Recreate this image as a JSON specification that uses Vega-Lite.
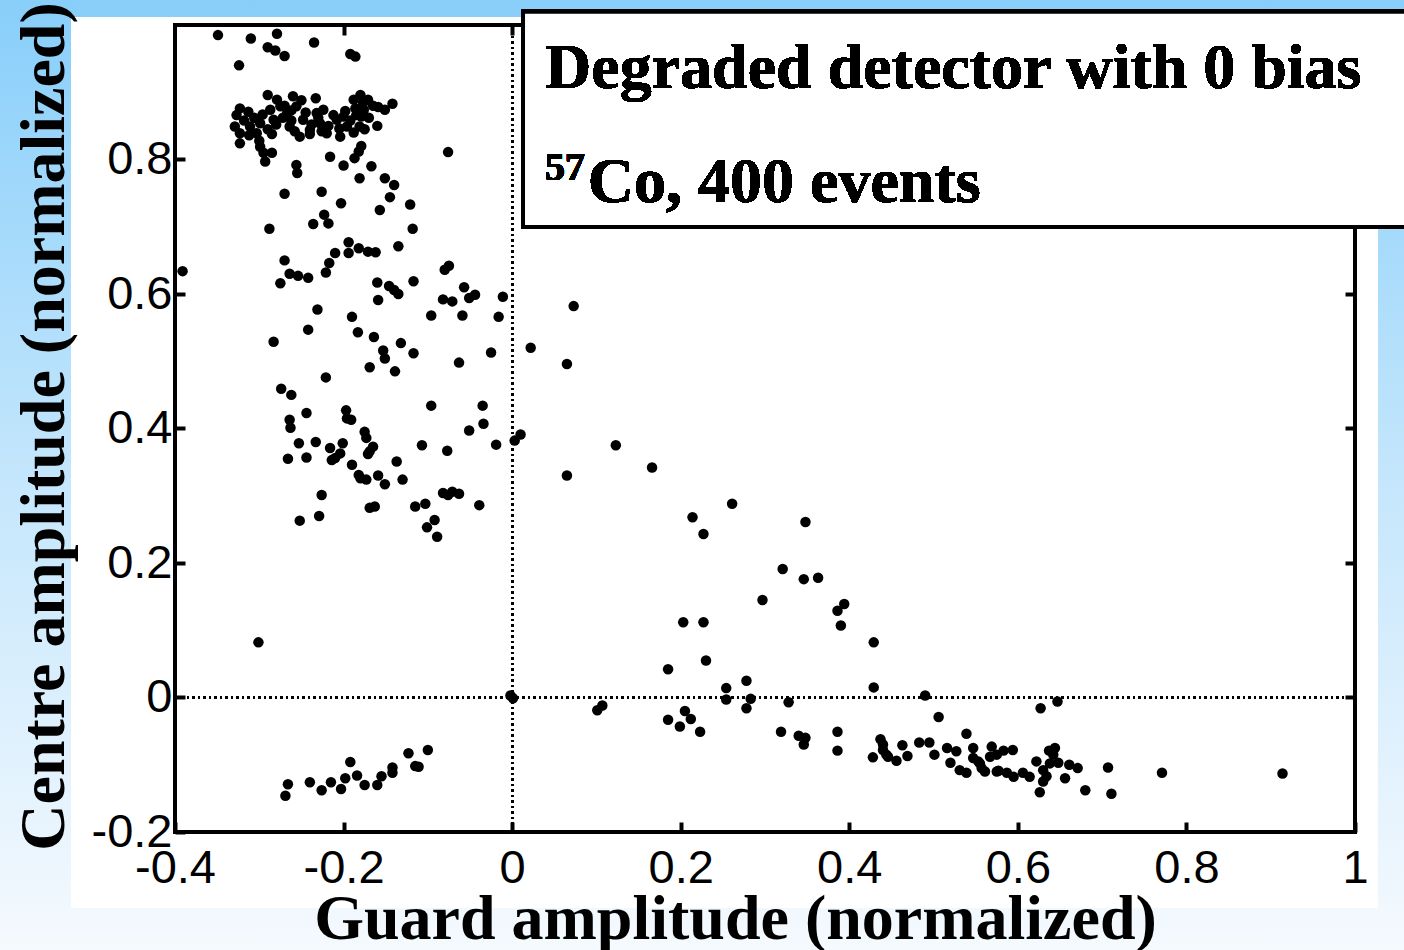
{
  "$schema": "https://vega.github.io/schema/vega-lite/v6.json",
  "width": 1180,
  "height": 807,
  "autosize": {"type": "none"},
  "padding": {"left": 175, "top": 25, "right": 49, "bottom": 118},
  "background": "#f6fafe",
  "view": {"stroke": null},
  "data": {"values": [
    {"g":-0.349,"c":0.985},{"g":-0.310,"c":0.980},{"g":-0.279,"c":0.987},{"g":-0.290,"c":0.967},{"g":-0.281,"c":0.962},{"g":-0.270,"c":0.954},{"g":-0.235,"c":0.974},{"g":-0.192,"c":0.957},{"g":-0.186,"c":0.953},{"g":-0.324,"c":0.940},
    {"g":-0.290,"c":0.896},{"g":-0.279,"c":0.889},{"g":-0.260,"c":0.894},{"g":-0.233,"c":0.891},{"g":-0.323,"c":0.876},{"g":-0.313,"c":0.871},{"g":-0.327,"c":0.866},{"g":-0.329,"c":0.849},{"g":-0.323,"c":0.839},{"g":-0.311,"c":0.849},
    {"g":-0.303,"c":0.839},{"g":-0.299,"c":0.854},{"g":-0.287,"c":0.874},{"g":-0.283,"c":0.859},{"g":-0.275,"c":0.879},{"g":-0.267,"c":0.869},{"g":-0.256,"c":0.879},{"g":-0.264,"c":0.849},{"g":-0.248,"c":0.859},{"g":-0.240,"c":0.844},
    {"g":-0.252,"c":0.834},{"g":-0.232,"c":0.869},{"g":-0.224,"c":0.874},{"g":-0.228,"c":0.854},{"g":-0.220,"c":0.839},{"g":-0.208,"c":0.859},{"g":-0.200,"c":0.864},{"g":-0.196,"c":0.849},{"g":-0.204,"c":0.834},{"g":-0.188,"c":0.889},
    {"g":-0.180,"c":0.896},{"g":-0.186,"c":0.876},{"g":-0.177,"c":0.884},{"g":-0.171,"c":0.889},{"g":-0.179,"c":0.864},{"g":-0.181,"c":0.849},{"g":-0.159,"c":0.878},{"g":-0.151,"c":0.874},{"g":-0.142,"c":0.883},{"g":-0.160,"c":0.850},
    {"g":-0.323,"c":0.824},{"g":-0.299,"c":0.819},{"g":-0.295,"c":0.810},{"g":-0.285,"c":0.810},{"g":-0.293,"c":0.797},{"g":-0.256,"c":0.792},{"g":-0.255,"c":0.780},{"g":-0.216,"c":0.804},{"g":-0.200,"c":0.791},{"g":-0.187,"c":0.802},
    {"g":-0.182,"c":0.812},{"g":-0.179,"c":0.820},{"g":-0.181,"c":0.772},{"g":-0.167,"c":0.790},{"g":-0.151,"c":0.772},{"g":-0.140,"c":0.762},{"g":-0.145,"c":0.744},{"g":-0.121,"c":0.733},{"g":-0.157,"c":0.725},{"g":-0.203,"c":0.735},
    {"g":-0.226,"c":0.752},{"g":-0.270,"c":0.749},{"g":-0.076,"c":0.811},{"g":-0.223,"c":0.718},
    {"g":-0.318,"c":0.858},{"g":-0.306,"c":0.862},{"g":-0.296,"c":0.867},{"g":-0.290,"c":0.845},{"g":-0.280,"c":0.852},{"g":-0.272,"c":0.862},{"g":-0.262,"c":0.858},{"g":-0.258,"c":0.842},{"g":-0.245,"c":0.870},{"g":-0.238,"c":0.852},
    {"g":-0.230,"c":0.862},{"g":-0.218,"c":0.850},{"g":-0.212,"c":0.866},{"g":-0.205,"c":0.846},{"g":-0.192,"c":0.858},{"g":-0.185,"c":0.866},{"g":-0.176,"c":0.874},{"g":-0.170,"c":0.862},{"g":-0.165,"c":0.880},{"g":-0.188,"c":0.840},
    {"g":-0.198,"c":0.872},{"g":-0.285,"c":0.838},{"g":-0.300,"c":0.828},{"g":-0.312,"c":0.836},{"g":-0.270,"c":0.880},{"g":-0.250,"c":0.888},{"g":-0.226,"c":0.842},{"g":-0.175,"c":0.845},{"g":-0.262,"c":0.873},{"g":-0.240,"c":0.838},
    {"g":-0.288,"c":0.697},{"g":-0.236,"c":0.704},{"g":-0.218,"c":0.705},{"g":-0.118,"c":0.697},{"g":-0.194,"c":0.677},{"g":-0.210,"c":0.661},{"g":-0.194,"c":0.661},{"g":-0.182,"c":0.668},{"g":-0.171,"c":0.663},{"g":-0.162,"c":0.662},
    {"g":-0.135,"c":0.671},{"g":-0.270,"c":0.650},{"g":-0.217,"c":0.646},{"g":-0.221,"c":0.632},{"g":-0.264,"c":0.630},{"g":-0.254,"c":0.627},{"g":-0.242,"c":0.624},{"g":-0.275,"c":0.616},{"g":-0.391,"c":0.634},{"g":-0.160,"c":0.617},
    {"g":-0.146,"c":0.612},{"g":-0.140,"c":0.606},{"g":-0.135,"c":0.600},{"g":-0.117,"c":0.619},{"g":-0.159,"c":0.591},{"g":-0.080,"c":0.636},{"g":-0.075,"c":0.642},{"g":-0.057,"c":0.610},{"g":-0.082,"c":0.592},{"g":-0.071,"c":0.589},
    {"g":-0.051,"c":0.594},{"g":-0.044,"c":0.599},{"g":-0.011,"c":0.596},{"g":-0.096,"c":0.568},{"g":-0.059,"c":0.568},{"g":-0.016,"c":0.566},{"g":-0.231,"c":0.577},{"g":-0.190,"c":0.566},{"g":-0.242,"c":0.547},{"g":-0.183,"c":0.543},
    {"g":-0.164,"c":0.536},{"g":-0.283,"c":0.529},{"g":-0.132,"c":0.527},{"g":-0.153,"c":0.516},{"g":-0.117,"c":0.512},{"g":-0.151,"c":0.504},{"g":-0.169,"c":0.491},{"g":-0.139,"c":0.485},{"g":-0.063,"c":0.498},{"g":-0.025,"c":0.513},
    {"g":-0.221,"c":0.476},{"g":-0.274,"c":0.459},{"g":-0.262,"c":0.450},{"g":0.022,"c":0.520},
    {"g":-0.244,"c":0.423},{"g":-0.264,"c":0.413},{"g":-0.263,"c":0.401},{"g":-0.197,"c":0.427},{"g":-0.196,"c":0.415},{"g":-0.191,"c":0.413},{"g":-0.096,"c":0.434},{"g":-0.035,"c":0.434},{"g":-0.051,"c":0.397},{"g":-0.034,"c":0.407},
    {"g":-0.019,"c":0.376},{"g":0.003,"c":0.382},{"g":0.010,"c":0.391},{"g":-0.253,"c":0.378},{"g":-0.233,"c":0.380},{"g":-0.266,"c":0.355},{"g":-0.244,"c":0.357},{"g":-0.216,"c":0.371},{"g":-0.201,"c":0.378},{"g":-0.204,"c":0.363},
    {"g":-0.214,"c":0.353},{"g":-0.210,"c":0.356},{"g":-0.175,"c":0.395},{"g":-0.173,"c":0.386},{"g":-0.165,"c":0.373},{"g":-0.169,"c":0.366},{"g":-0.171,"c":0.362},{"g":-0.107,"c":0.375},{"g":-0.077,"c":0.367},{"g":-0.190,"c":0.346},
    {"g":-0.137,"c":0.351},{"g":-0.182,"c":0.331},{"g":-0.180,"c":0.326},{"g":-0.173,"c":0.324},{"g":-0.159,"c":0.330},{"g":-0.151,"c":0.317},{"g":-0.130,"c":0.324},{"g":-0.226,"c":0.301},{"g":-0.082,"c":0.304},{"g":-0.076,"c":0.301},
    {"g":-0.071,"c":0.306},{"g":-0.063,"c":0.303},{"g":-0.169,"c":0.282},{"g":-0.163,"c":0.284},{"g":-0.115,"c":0.284},{"g":-0.103,"c":0.288},{"g":-0.039,"c":0.286},{"g":-0.229,"c":0.270},{"g":-0.252,"c":0.263},{"g":-0.092,"c":0.264},
    {"g":-0.101,"c":0.253},{"g":-0.089,"c":0.239},
    {"g":-0.301,"c":0.082},{"g":-0.002,"c":0.003},{"g":0.001,"c":-0.001},
    {"g":-0.266,"c":-0.129},{"g":-0.269,"c":-0.146},{"g":-0.240,"c":-0.126},{"g":-0.226,"c":-0.138},{"g":-0.215,"c":-0.126},{"g":-0.203,"c":-0.136},{"g":-0.198,"c":-0.120},{"g":-0.192,"c":-0.096},{"g":-0.184,"c":-0.116},{"g":-0.175,"c":-0.130},
    {"g":-0.160,"c":-0.130},{"g":-0.155,"c":-0.117},{"g":-0.142,"c":-0.104},{"g":-0.142,"c":-0.112},{"g":-0.123,"c":-0.083},{"g":-0.115,"c":-0.102},{"g":-0.111,"c":-0.103},{"g":-0.100,"c":-0.078},
    {"g":0.073,"c":0.582},{"g":0.065,"c":0.496},{"g":0.123,"c":0.375},{"g":0.166,"c":0.342},{"g":0.065,"c":0.330},
    {"g":0.261,"c":0.288},{"g":0.214,"c":0.268},{"g":0.227,"c":0.243},{"g":0.348,"c":0.261},{"g":0.321,"c":0.191},{"g":0.346,"c":0.176},{"g":0.363,"c":0.178},{"g":0.297,"c":0.145},{"g":0.386,"c":0.129},{"g":0.394,"c":0.139},
    {"g":0.390,"c":0.107},{"g":0.203,"c":0.112},{"g":0.227,"c":0.112},{"g":0.429,"c":0.082},{"g":0.185,"c":0.042},{"g":0.230,"c":0.055},{"g":0.429,"c":0.015},{"g":0.278,"c":0.025},{"g":0.254,"c":0.014},{"g":0.254,"c":-0.003},
    {"g":0.283,"c":-0.002},{"g":0.278,"c":-0.016},{"g":0.328,"c":-0.007},{"g":0.490,"c":0.003},{"g":0.107,"c":-0.012},{"g":0.101,"c":-0.019},{"g":0.205,"c":-0.020},{"g":0.212,"c":-0.032},{"g":0.185,"c":-0.033},{"g":0.199,"c":-0.043},
    {"g":0.223,"c":-0.051},{"g":0.319,"c":-0.051},{"g":0.340,"c":-0.057},{"g":0.348,"c":-0.060},{"g":0.346,"c":-0.070},{"g":0.386,"c":-0.051},{"g":0.386,"c":-0.079},{"g":0.506,"c":-0.029},{"g":0.437,"c":-0.062},{"g":0.440,"c":-0.070},
    {"g":0.428,"c":-0.089},{"g":0.444,"c":-0.085},{"g":0.456,"c":-0.094},{"g":0.463,"c":-0.071},{"g":0.469,"c":-0.087},{"g":0.483,"c":-0.067},{"g":0.495,"c":-0.067},{"g":0.501,"c":-0.085},{"g":0.516,"c":-0.075},{"g":0.527,"c":-0.080},
    {"g":0.539,"c":-0.054},{"g":0.520,"c":-0.097},{"g":0.531,"c":-0.108},{"g":0.539,"c":-0.112},{"g":0.547,"c":-0.075},{"g":0.547,"c":-0.090},{"g":0.555,"c":-0.098},{"g":0.561,"c":-0.110},{"g":0.569,"c":-0.073},{"g":0.575,"c":-0.110},
    {"g":0.627,"c":-0.016},{"g":0.647,"c":-0.006},{"g":0.440,"c":-0.078},{"g":0.446,"c":-0.088},{"g":0.553,"c":-0.095},{"g":0.557,"c":-0.105},{"g":0.567,"c":-0.088},{"g":0.575,"c":-0.085},{"g":0.583,"c":-0.079},{"g":0.594,"c":-0.078},
    {"g":0.577,"c":-0.109},{"g":0.587,"c":-0.112},{"g":0.595,"c":-0.118},{"g":0.606,"c":-0.112},{"g":0.614,"c":-0.118},{"g":0.622,"c":-0.095},{"g":0.630,"c":-0.108},{"g":0.634,"c":-0.117},{"g":0.630,"c":-0.125},{"g":0.626,"c":-0.141},
    {"g":0.637,"c":-0.079},{"g":0.644,"c":-0.075},{"g":0.642,"c":-0.085},{"g":0.648,"c":-0.097},{"g":0.638,"c":-0.098},{"g":0.661,"c":-0.100},{"g":0.671,"c":-0.105},{"g":0.656,"c":-0.120},{"g":0.680,"c":-0.138},{"g":0.707,"c":-0.104},
    {"g":0.711,"c":-0.143},{"g":0.771,"c":-0.112},{"g":0.914,"c":-0.113}
  ]},
  "resolve": {"axis": {"x": "independent", "y": "independent"}},
  "layer": [
    {
      "mark": {"type": "rect", "fill": {"gradient": "linear", "x1": 0, "y1": 0, "x2": 0, "y2": 1, "stops": [{"offset": 0, "color": "#87cefa"}, {"offset": 0.5, "color": "#c4e6fc"}, {"offset": 1, "color": "#f6fafe"}]}},
      "encoding": {
        "x": {"datum": -0.62, "type": "quantitative", "scale": {"domain": [-0.4, 1], "nice": false, "zero": false}, "axis": null},
        "x2": {"datum": 1.07},
        "y": {"datum": 1.05, "type": "quantitative", "scale": {"domain": [-0.2, 1], "nice": false, "zero": false}, "axis": null},
        "y2": {"datum": -0.39}
      }
    },
    {
      "mark": {"type": "rect", "fill": "white"},
      "encoding": {
        "x": {"datum": -0.523, "type": "quantitative", "scale": {"domain": [-0.4, 1], "nice": false, "zero": false}, "axis": null},
        "x2": {"datum": 1.0265},
        "y": {"datum": 1.0116, "type": "quantitative", "scale": {"domain": [-0.2, 1], "nice": false, "zero": false}, "axis": null},
        "y2": {"datum": -0.3127}
      }
    },
    {
      "mark": {"type": "rule", "color": "black", "strokeWidth": 2, "strokeDash": [2, 3.5]},
      "encoding": {
        "x": {"datum": 0, "type": "quantitative", "scale": {"domain": [-0.4, 1], "nice": false, "zero": false},
          "axis": {"orient": "top", "values": [-0.2, 0], "labels": false, "domain": false, "grid": false, "tickSize": -10, "tickWidth": 4, "tickColor": "black", "title": null, "zindex": 1}}
      }
    },
    {
      "mark": {"type": "rule", "color": "black", "strokeWidth": 2, "strokeDash": [2, 3.5]},
      "encoding": {
        "y": {"datum": 0, "type": "quantitative", "scale": {"domain": [-0.2, 1], "nice": false, "zero": false},
          "axis": {"orient": "right", "values": [0, 0.2, 0.4, 0.6], "labels": false, "domain": false, "grid": false, "tickSize": -10, "tickWidth": 4, "tickColor": "black", "title": null, "zindex": 1}}
      }
    },
    {
      "mark": {"type": "rect", "fill": "white", "fillOpacity": 0, "stroke": "black", "strokeWidth": 4},
      "encoding": {
        "x": {"datum": -0.4, "type": "quantitative", "scale": {"domain": [-0.4, 1], "nice": false, "zero": false}, "axis": null},
        "x2": {"datum": 1},
        "y": {"datum": 1, "type": "quantitative", "scale": {"domain": [-0.2, 1], "nice": false, "zero": false}, "axis": null},
        "y2": {"datum": -0.2}
      }
    },
    {
      "mark": {"type": "point", "shape": "circle", "filled": true, "color": "black", "opacity": 1, "size": 110},
      "encoding": {
        "x": {"field": "g", "type": "quantitative", "scale": {"domain": [-0.4, 1], "nice": false, "zero": false},
          "axis": {"orient": "bottom", "values": [-0.4, -0.2, 0, 0.2, 0.4, 0.6, 0.8, 1],
            "labelExpr": "datum.value == 0 ? '0' : datum.value == 1 ? '1' : (datum.value < 0 ? '-' : '') + format(abs(datum.value), '.1f')",
            "labelFont": "Liberation Sans", "labelFontSize": 47, "labelColor": "black", "labelPadding": 23, "labelFlush": false, "labelOverlap": false,
            "tickSize": -10, "tickWidth": 4, "tickColor": "black", "domain": false, "grid": false, "zindex": 1,
            "title": "Guard amplitude (normalized)", "titleFont": "Liberation Serif", "titleFontSize": 64, "titleFontWeight": "bold", "titleColor": "black",
            "titleX": 560, "titleY": 106, "titleBaseline": "alphabetic", "titleAlign": "center"}},
        "y": {"field": "c", "type": "quantitative", "scale": {"domain": [-0.2, 1], "nice": false, "zero": false},
          "axis": {"orient": "left", "values": [-0.2, 0, 0.2, 0.4, 0.6, 0.8],
            "labelExpr": "datum.value == 0 ? '0' : (datum.value < 0 ? '-' : '') + format(abs(datum.value), '.1f')",
            "labelFont": "Liberation Sans", "labelFontSize": 47, "labelColor": "black", "labelPadding": 13, "labelFlush": false, "labelOverlap": false,
            "tickSize": -10, "tickWidth": 4, "tickColor": "black", "domain": false, "grid": false, "zindex": 1,
            "title": "Centre amplitude (normalized)", "titleFont": "Liberation Serif", "titleFontSize": 64, "titleFontWeight": "bold", "titleColor": "black",
            "titleAngle": -90, "titleX": -112, "titleY": 401, "titleBaseline": "alphabetic", "titleAlign": "center"}}
      }
    },
    {
      "mark": {"type": "rect", "fill": "white", "stroke": "black", "strokeWidth": 4},
      "encoding": {
        "x": {"datum": 0.0129, "type": "quantitative", "scale": {"domain": [-0.4, 1], "nice": false, "zero": false}, "axis": null},
        "x2": {"datum": 1.09},
        "y": {"datum": 1.0196, "type": "quantitative", "scale": {"domain": [-0.2, 1], "nice": false, "zero": false}, "axis": null},
        "y2": {"datum": 0.6996}
      }
    },
    {
      "mark": {"type": "text", "text": "Degraded detector with 0 bias", "font": "Liberation Serif", "fontSize": 64, "fontWeight": "bold", "align": "left", "baseline": "alphabetic", "color": "black"},
      "encoding": {
        "x": {"datum": 0.039, "type": "quantitative", "scale": {"domain": [-0.4, 1], "nice": false, "zero": false}, "axis": null},
        "y": {"datum": 0.9066, "type": "quantitative", "scale": {"domain": [-0.2, 1], "nice": false, "zero": false}, "axis": null}
      }
    },
    {
      "mark": {"type": "text", "text": "57", "font": "Liberation Serif", "fontSize": 40, "fontWeight": "bold", "align": "left", "baseline": "alphabetic", "color": "black"},
      "encoding": {
        "x": {"datum": 0.039, "type": "quantitative", "scale": {"domain": [-0.4, 1], "nice": false, "zero": false}, "axis": null},
        "y": {"datum": 0.770, "type": "quantitative", "scale": {"domain": [-0.2, 1], "nice": false, "zero": false}, "axis": null}
      }
    },
    {
      "mark": {"type": "text", "text": "Co, 400 events", "font": "Liberation Serif", "fontSize": 64, "fontWeight": "bold", "align": "left", "baseline": "alphabetic", "color": "black"},
      "encoding": {
        "x": {"datum": 0.0898, "type": "quantitative", "scale": {"domain": [-0.4, 1], "nice": false, "zero": false}, "axis": null},
        "y": {"datum": 0.737, "type": "quantitative", "scale": {"domain": [-0.2, 1], "nice": false, "zero": false}, "axis": null}
      }
    }
  ]
}
